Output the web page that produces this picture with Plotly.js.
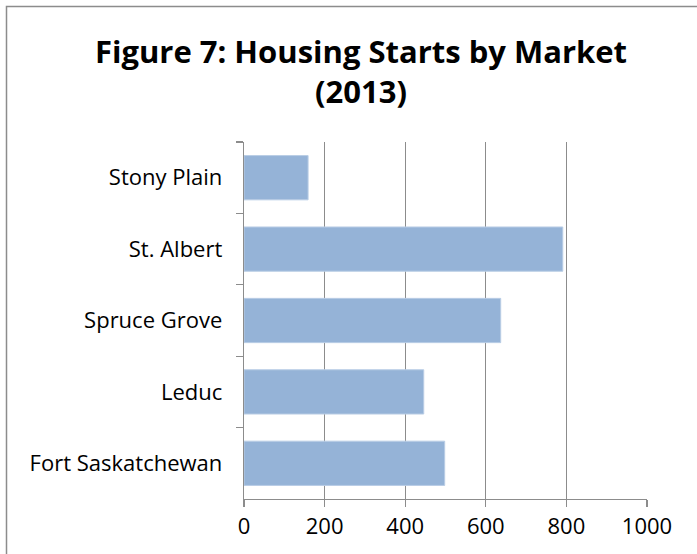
<!DOCTYPE html>
<html>
<head>
<meta charset="utf-8">
<script src="https://cdn.plot.ly/plotly-3.0.1.min.js"></script>
<style>html,body{margin:0;padding:0;background:#fff;overflow:hidden}</style>
</head>
<body>
<div id="chart" style="width:697px;height:554px"></div>
<script>
var markets = ["Stony Plain", "St. Albert", "Spruce Grove", "Leduc", "Fort Saskatchewan"];
var starts = [159, 791, 637, 446, 498];
var xTicks = [0, 200, 400, 600, 800, 1000];
var titleText = "Figure 7: Housing Starts by Market<br>(2013)";

var FONT = "'Open Sans', Lato, sans-serif";
var L = 244, R = 50, T = 142, B = 55, W = 697, H = 554;
var pw = W - L - R, ph = H - T - B;

var trace = {
  type: "bar",
  orientation: "h",
  y: markets,
  x: starts,
  marker: {color: "#95B3D7", line: {color: "#B9CDE5", width: 1}},
  hoverinfo: "x+y"
};

var layout = {
  width: W, height: H,
  margin: {l: L, r: R, t: T, b: B},
  paper_bgcolor: "#ffffff",
  plot_bgcolor: "#ffffff",
  font: {family: FONT, size: 20, color: "#000000"},
  showlegend: false,
  bargap: 0.38,
  title: {
    text: titleText,
    font: {family: FONT, size: 31, color: "#000000", weight: "bold"},
    x: 361 / W, xanchor: "center", xref: "container",
    y: 1 - 63 / H, yanchor: "top", yref: "container"
  },
  xaxis: {
    range: [0, 1000],
    tickvals: xTicks,
    ticktext: xTicks.map(String),
    showgrid: true, gridcolor: "#8C8C8C", gridwidth: 1.3,
    zeroline: false,
    showline: true, linecolor: "#8C8C8C", linewidth: 1.3,
    ticks: "outside", ticklen: 7, tickcolor: "#8C8C8C", tickwidth: 1.3,
    tickfont: {family: FONT, size: 22, color: "#000"},
    fixedrange: true
  },
  yaxis: {
    type: "category",
    autorange: "reversed",
    tickson: "boundaries",
    showgrid: false,
    zeroline: false,
    showline: true, linecolor: "#8C8C8C", linewidth: 1.3,
    ticks: "outside", ticklen: 7, tickcolor: "#8C8C8C", tickwidth: 1.3,
    ticklabelstandoff: 16,
    tickfont: {family: FONT, size: 22, color: "#000"},
    fixedrange: true
  },
  shapes: [{
    type: "rect", xref: "paper", yref: "paper",
    x0: (6.5 - L) / pw, x1: (720 - L) / pw,
    y0: (H - B - 600) / ph, y1: (H - B - 6.5) / ph,
    line: {color: "#8C8C8C", width: 1.5},
    fillcolor: "rgba(0,0,0,0)", layer: "below"
  }]
};

Plotly.newPlot("chart", [trace], layout, {displayModeBar: false, staticPlot: true});
</script>
</body>
</html>
